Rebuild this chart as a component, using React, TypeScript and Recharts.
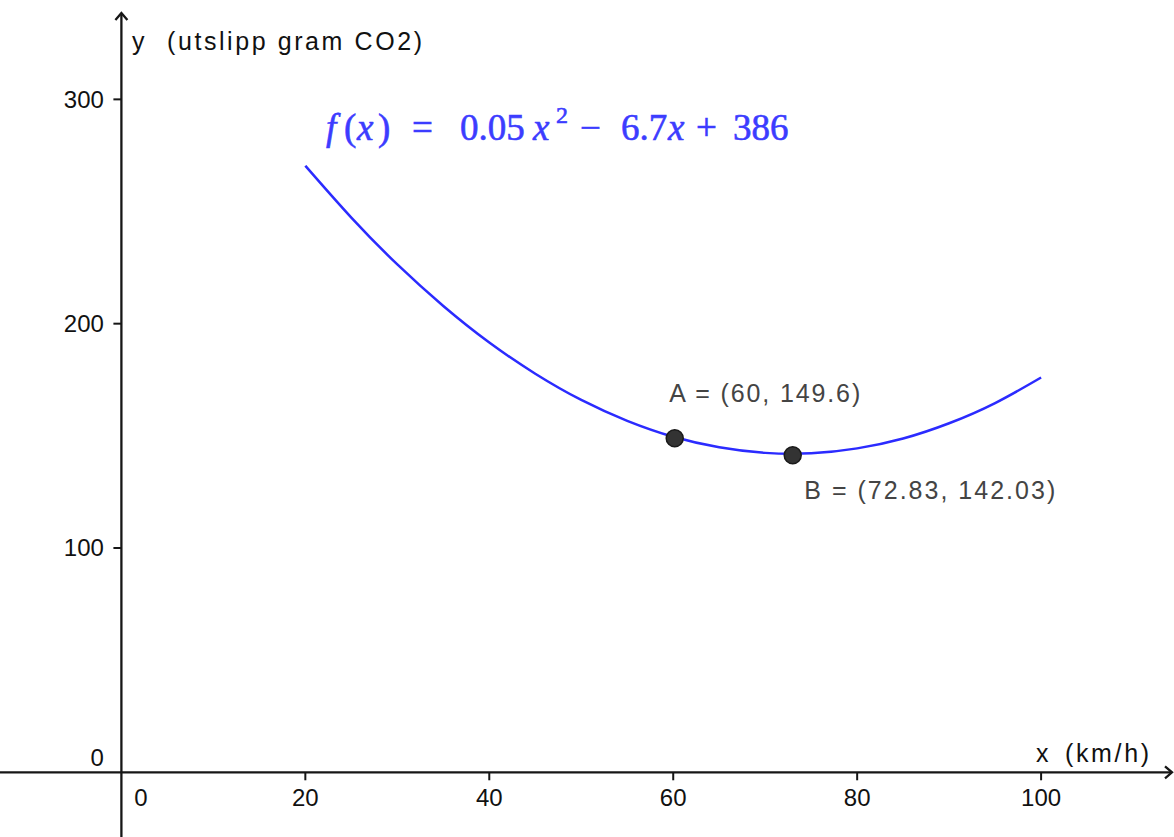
import React from "react";
import { ComposedChart, Line, XAxis, YAxis, ReferenceLine, ReferenceDot } from "recharts";

// speed (km/h) and CO2 emission (gram)
const speeds = [20, 25, 30, 35, 40, 45, 50, 55, 60, 65, 70, 75, 80, 85, 90, 95, 100];
const emissions = [270.4, 247.3, 226.4, 207.9, 191.6, 177.7, 166.0, 156.7, 149.6, 144.9, 142.4, 142.2, 144.4, 148.8, 155.6, 164.6, 176.0];

const xTicks = [0, 20, 40, 60, 80, 100];
const yTicks = [0, 100, 200, 300];

const pointNames = ["A", "B"];
const pointX = [60, 72.83];
const pointY = [149.6, 142.03];
const pointLabels = ["A = (60, 149.6)", "B = (72.83, 142.03)"];

const xDomain = [-13.2, 114.45];
const yDomain = [-28.85, 344.3];

const W = 1174;
const H = 837;
const AXIS = "#161616";
const BLUE = "#2b2bff";
const SANS = "'Liberation Sans', Arial, sans-serif";
const SERIF = "'Liberation Serif', 'Times New Roman', serif";

const data = speeds.map((x, i) => ({ x, y: emissions[i] }));

const HorizontalAxis = (p: any) => {
  const left = Math.min(p.x1, p.x2);
  const right = Math.max(p.x1, p.x2) - 2;
  const y = p.y1;
  return (
    <g stroke={AXIS} strokeWidth={2.3} fill="none">
      <line x1={left} y1={y} x2={right} y2={y} />
      <polyline points={`${right - 7},${y - 6} ${right},${y} ${right - 7},${y + 6}`} />
    </g>
  );
};

const VerticalAxis = (p: any) => {
  const top = Math.min(p.y1, p.y2) + 13;
  const bottom = Math.max(p.y1, p.y2);
  const x = p.x1;
  return (
    <g stroke={AXIS} strokeWidth={2.3} fill="none">
      <line x1={x} y1={bottom} x2={x} y2={top} />
      <polyline points={`${x - 6},${top + 7} ${x},${top} ${x + 6},${top + 7}`} />
    </g>
  );
};

const xTickShape = (value: number) => (p: any) => {
  if (value === 0) {
    return (
      <text x={p.cx + 19.5} y={p.cy + 34} textAnchor="middle" fontSize={24} fontFamily={SANS} fill="#111">
        {value}
      </text>
    );
  }
  return (
    <g>
      <line x1={p.cx} y1={p.cy} x2={p.cx} y2={p.cy + 8} stroke={AXIS} strokeWidth={2} />
      <text x={p.cx} y={p.cy + 34} textAnchor="middle" fontSize={24} fontFamily={SANS} fill="#111">
        {value}
      </text>
    </g>
  );
};

const yTickShape = (value: number) => (p: any) => {
  if (value === 0) {
    return (
      <text x={p.cx - 17.5} y={p.cy - 5.8} textAnchor="end" fontSize={24} fontFamily={SANS} fill="#111">
        {value}
      </text>
    );
  }
  return (
    <g>
      <line x1={p.cx} y1={p.cy} x2={p.cx - 8} y2={p.cy} stroke={AXIS} strokeWidth={2} />
      <text x={p.cx - 17.5} y={p.cy + 8.5} textAnchor="end" fontSize={24} fontFamily={SANS} fill="#111">
        {value}
      </text>
    </g>
  );
};

const labelOffsets: Record<string, { dx: number; dy: number; len: number }> = {
  A: { dx: -4, dy: -35, len: 191 },
  B: { dx: 13, dy: 45, len: 251 },
};

const pointShape = (i: number) => (p: any) => {
  const o = labelOffsets[pointNames[i]];
  return (
    <g>
      <circle cx={p.cx + 1.5} cy={p.cy + 1.5} r={8.5} fill="#333" stroke="#1a1a1a" strokeWidth={1.5} />
      <text
        x={p.cx + o.dx}
        y={p.cy + o.dy}
        fontSize={25}
        fontFamily={SANS}
        fill="#444"
        textLength={o.len}
        lengthAdjust="spacing"
      >
        {pointLabels[i]}
      </text>
    </g>
  );
};

export default function App() {
  return (
    <div style={{ position: "absolute", left: 0, top: 0, width: W, height: H, background: "#fff" }}>
      <ComposedChart width={W} height={H} data={data} margin={{ top: 0, right: 0, bottom: 0, left: 0 }}>
        <XAxis type="number" dataKey="x" domain={xDomain} allowDataOverflow hide />
        <YAxis type="number" domain={yDomain} allowDataOverflow hide />
        <ReferenceLine y={0} shape={HorizontalAxis} />
        <ReferenceLine x={0} shape={VerticalAxis} />
        {xTicks.map((t) => (
          <ReferenceDot key={`xt${t}`} x={t} y={0} r={1} shape={xTickShape(t)} />
        ))}
        {yTicks.map((t) => (
          <ReferenceDot key={`yt${t}`} x={0} y={t} r={1} shape={yTickShape(t)} />
        ))}
        <Line
          type="natural"
          dataKey="y"
          stroke={BLUE}
          strokeWidth={2.5}
          dot={false}
          activeDot={false}
          isAnimationActive={false}
        />
        {pointNames.map((n, i) => (
          <ReferenceDot key={n} x={pointX[i]} y={pointY[i]} r={8.5} shape={pointShape(i)} />
        ))}
        <g fontFamily={SANS} fontSize={25} fill="#111">
          <text x={132} y={50}>y</text>
          <text x={167} y={50} textLength={255} lengthAdjust="spacing">(utslipp gram CO2)</text>
          <text x={1036} y={762}>x</text>
          <text x={1065} y={762} textLength={84} lengthAdjust="spacing">(km/h)</text>
        </g>
        <text
          fontFamily={SERIF}
          fontSize={37}
          fill="#3c3cff"
          stroke="#3c3cff"
          strokeWidth={0.6}
          y={140}
        >
          <tspan x={326} fontStyle="italic">f</tspan>
          <tspan x={344}>(</tspan>
          <tspan x={357} fontStyle="italic">x</tspan>
          <tspan x={378}>)</tspan>
          <tspan x={412}>=</tspan>
          <tspan x={460}>0.05</tspan>
          <tspan x={533} fontStyle="italic">x</tspan>
          <tspan x={556} y={123} fontSize={24}>2</tspan>
          <tspan x={580} y={140}>−</tspan>
          <tspan x={621}>6.7</tspan>
          <tspan x={668} fontStyle="italic">x</tspan>
          <tspan x={696}>+</tspan>
          <tspan x={733}>386</tspan>
        </text>
      </ComposedChart>
    </div>
  );
}
